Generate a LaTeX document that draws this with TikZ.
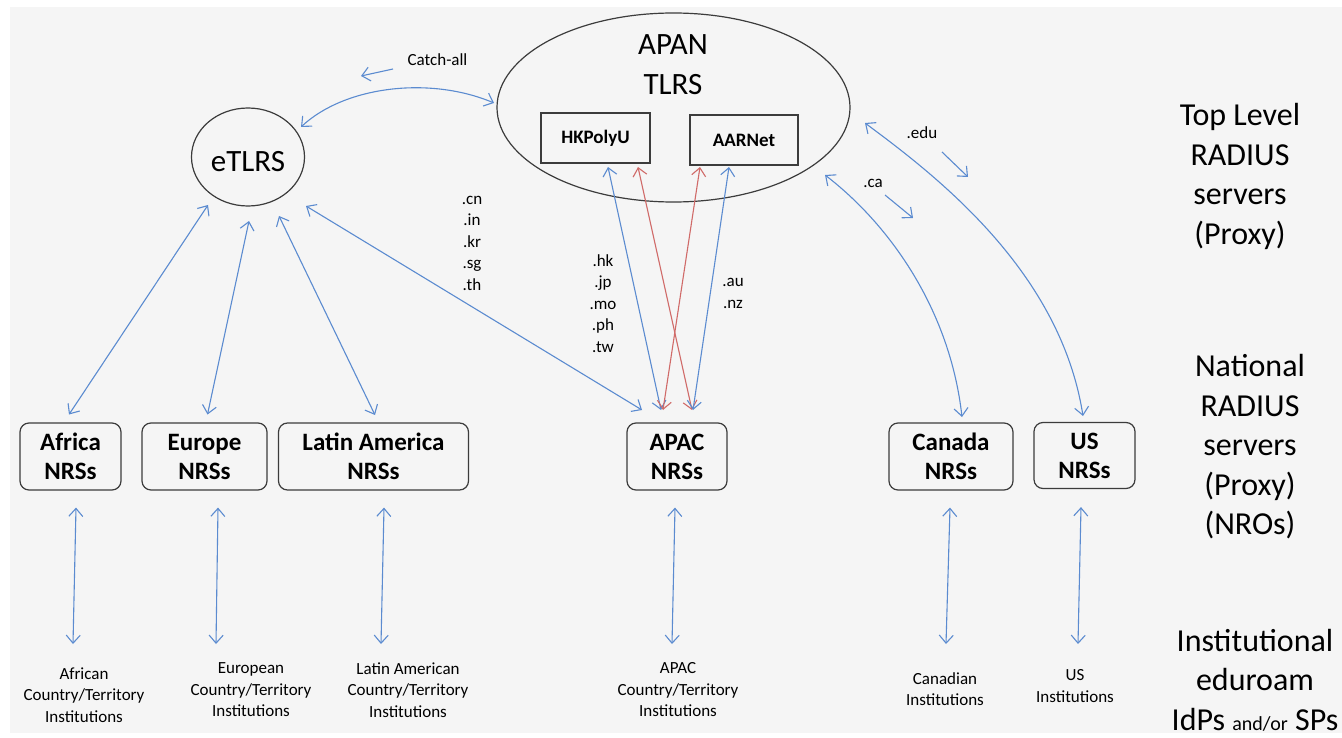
\documentclass[tikz,border=0pt]{standalone}
\usepackage{fontspec}
\setmainfont{Carlito}
\usetikzlibrary{arrows.meta,shapes.geometric}
\definecolor{bg}{HTML}{F5F5F5}
\definecolor{lblue}{HTML}{5B8BD0}
\definecolor{lred}{HTML}{D06A68}
\definecolor{edgec}{HTML}{3C3C3C}
\newcommand{\fs}[2]{\fontsize{#1}{#2}\selectfont}
\begin{document}
\begin{tikzpicture}[x=1pt,y=-1pt,
  >={Straight Barb[length=8pt,width=14pt]},
  bi/.style={<->, draw=lblue, line width=1.1pt},
  bired/.style={<->, draw=lred, line width=1.1pt},
  uni/.style={->, draw=lblue, line width=1.1pt},
  nrs/.style={draw=edgec, line width=1.2pt, rounded corners=9pt, minimum height=67pt, inner sep=0pt, align=center, font=\fs{25}{29}\bfseries},
  srv/.style={draw=edgec, line width=1.2pt, minimum height=50pt, inner sep=0pt, font=\fs{19}{22}\bfseries},
  inst/.style={align=center, inner sep=0pt, font=\fs{17}{21.5}},
  tier/.style={align=center, inner sep=0pt, font=\fs{32}{39.5}},
  small/.style={align=center, inner sep=0pt, font=\fs{17}{21.5}},
  big/.style={align=center, inner sep=0pt, font=\fs{31}{40}}
]
\useasboundingbox (0,0) rectangle (1342,738);
\fill[bg] (10,7) rectangle (1342,733);

% top level servers
\node[ellipse, draw=edgec, line width=1.2pt, minimum width=353pt, minimum height=189pt, inner sep=0pt] (apan) at (673.5,107.5) {};
\node[big] (apantxt) at (673,65) {APAN\\TLRS};
\node[srv, minimum width=109pt] (hk) at (595.5,138) {HKPolyU};
\node[srv, minimum width=108pt] (aar) at (744,140) {AARNet};
\node[ellipse, draw=edgec, line width=1.2pt, minimum width=113pt, minimum height=98pt, inner sep=0pt] (etlrs) at (248,157) {};
\node[big] (etlrstxt) at (248,162) {eTLRS};

% national servers
\node[nrs, minimum width=101pt] (afr) at (70.5,456.5) {Africa\\NRSs};
\node[nrs, minimum width=125pt] (eur) at (204.5,456.5) {Europe\\NRSs};
\node[nrs, minimum width=190pt] (lat) at (373.5,456.5) {Latin America\\NRSs};
\node[nrs, minimum width=100pt] (apac) at (677,456.5) {APAC\\NRSs};
\node[nrs, minimum width=124pt] (can) at (951,456.5) {Canada\\NRSs};
\node[nrs, minimum width=101pt, minimum height=66pt] (us) at (1084.5,455.5) {US\\NRSs};

% institutions
\node[inst] (afrinst) at (84,695) {African\\Country/Territory\\Institutions};
\node[inst] (eurinst) at (251,690) {European\\Country/Territory\\Institutions};
\node[inst] (latinst) at (408,690) {Latin American\\Country/Territory\\Institutions};
\node[inst] (apacinst) at (678,690) {APAC\\Country/Territory\\Institutions};
\node[inst] (caninst) at (945,689) {Canadian\\Institutions};
\node[inst] (usinst) at (1075,686) {US\\Institutions};

% tier labels
\node[tier] (tier1) at (1240,176.5) {Top Level\\RADIUS\\servers\\(Proxy)};
\node[tier] (tier2) at (1250,447) {National\\RADIUS\\servers\\(Proxy)\\(NROs)};
\node[tier] (tier3) at (1255,680) {Institutional\\eduroam\\IdPs {\fs{20}{39.5}and/or} SPs};

% realm labels
\node[small] (catch) at (437.5,60) {Catch-all};
\node[small] (asia1) at (472,243) {.cn\\.in\\.kr\\.sg\\.th};
\node[small] (asia2) at (603,303.5) {.hk\\.jp\\.mo\\.ph\\.tw};
\node[small] (oce) at (733,293.5) {.au\\.nz};
\node[small] (ca) at (873,183) {.ca};
\node[small] (edu) at (922,133) {.edu};

% direction hints
\coordinate (c1a) at (393,69); \coordinate (c1b) at (361,76);
\coordinate (c2a) at (885,195); \coordinate (c2b) at (913,218);
\coordinate (c3a) at (942,152); \coordinate (c3b) at (968,177);
\draw[uni] (c1a) -- (c1b);
\draw[uni] (c2a) -- (c2b);
\draw[uni] (c3a) -- (c3b);

% top-level connectors
\draw[bi] ([xshift=53pt,yshift=30pt]etlrs.center) .. controls (345,86) and (430,76) .. ([xshift=-179.5pt,yshift=4.5pt]apan.center);
\draw[bi] ([xshift=58pt,yshift=-49pt]etlrs.center) -- ([xshift=-35pt,yshift=46.5pt]apac.center);
\draw[bi] ([xshift=-40pt,yshift=-48pt]etlrs.center) -- ([xshift=-1.5pt,yshift=42pt]afr.center);
\draw[bi] ([xshift=1pt,yshift=-64pt]etlrs.center) -- ([xshift=3pt,yshift=42pt]eur.center);
\draw[bi] ([xshift=31pt,yshift=-59pt]etlrs.center) -- ([xshift=1.5pt,yshift=41.5pt]lat.center);

\draw[bi] ([xshift=12.5pt,yshift=-29pt]hk.center) -- ([xshift=-16pt,yshift=46.5pt]apac.center);
\draw[bired] ([xshift=42.5pt,yshift=-29pt]hk.center) -- ([xshift=15pt,yshift=46.5pt]apac.center);
\draw[bired] ([xshift=-44pt,yshift=-27pt]aar.center) -- ([xshift=-14pt,yshift=46.5pt]apac.center);
\draw[bi] ([xshift=-15pt,yshift=-27pt]aar.center) -- ([xshift=16pt,yshift=46.5pt]apac.center);

\draw[bi] ([xshift=151.5pt,yshift=-67.5pt]apan.center) .. controls (890,225) and (950,310) .. ([xshift=11pt,yshift=39.5pt]can.center);
\draw[bi] ([xshift=191.5pt,yshift=-15.5pt]apan.center) .. controls (935,175) and (1060,270) .. ([xshift=-1.5pt,yshift=39.5pt]us.center);

% national to institutions
\draw[bi] ([xshift=5.5pt,yshift=-17pt]afr.south) -- ([xshift=-11pt,yshift=51pt]afrinst.center);
\draw[bi] ([xshift=13.5pt,yshift=-17pt]eur.south) -- ([xshift=-35pt,yshift=46pt]eurinst.center);
\draw[bi] ([xshift=10.5pt,yshift=-17pt]lat.south) -- ([xshift=-27pt,yshift=46pt]latinst.center);
\draw[bi] ([xshift=-2pt,yshift=-17pt]apac.south) -- ([xshift=-6pt,yshift=46pt]apacinst.center);
\draw[bi] ([xshift=-1pt,yshift=-17pt]can.south) -- ([xshift=1pt,yshift=45pt]caninst.center);
\draw[bi] ([xshift=-3.5pt,yshift=-18pt]us.south) -- ([xshift=3pt,yshift=42pt]usinst.center);
\end{tikzpicture}
\end{document}
